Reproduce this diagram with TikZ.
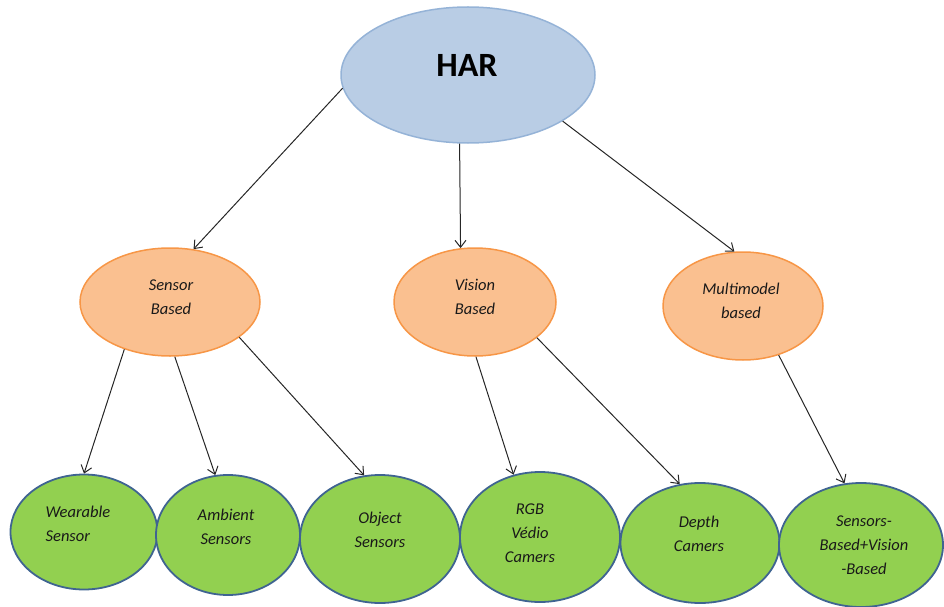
\documentclass[tikz,border=0pt]{standalone}
\usepackage{fontspec}
\setmainfont{Carlito}
\usetikzlibrary{shapes.geometric,arrows.meta}
\definecolor{harfill}{HTML}{B9CDE5}
\definecolor{harline}{HTML}{95B3D7}
\definecolor{orfill}{HTML}{FAC090}
\definecolor{orline}{HTML}{F79646}
\definecolor{grfill}{HTML}{92D050}
\definecolor{grline}{HTML}{3F6491}
\tikzset{
  topell/.style={ellipse, fill=harfill, draw=harline, line width=1.5pt, inner sep=0pt},
  midell/.style={ellipse, fill=orfill, draw=orline, line width=1.5pt, inner sep=0pt},
  botell/.style={ellipse, fill=grfill, draw=grline, line width=1.8pt, inner sep=0pt},
  lbl/.style={font=\fontsize{16.5}{24}\selectfont\itshape, align=center, inner sep=0pt, text=black!90},
  conn/.style={draw=black!85, line width=1pt, -{Straight Barb[length=7pt,width=11pt]}}
}
\begin{document}
\begin{tikzpicture}[x=1pt,y=-1pt]
\useasboundingbox (0,0) rectangle (944,607);
% ellipses
\node[topell, minimum width=254, minimum height=136] (har) at (468,75) {};
\node[midell, minimum width=180, minimum height=108] (sb) at (170,302) {};
\node[midell, minimum width=162, minimum height=108] (vb) at (475,302) {};
\node[midell, minimum width=160, minimum height=108] (mb) at (743,306) {};
\node[botell, minimum width=147, minimum height=115] (ws) at (84,532) {};
\node[botell, minimum width=144, minimum height=120] (as) at (228,535) {};
\node[botell, minimum width=160, minimum height=128] (os) at (380,539) {};
\node[botell, minimum width=160, minimum height=130] (rgb) at (540,537) {};
\node[botell, minimum width=159, minimum height=120] (dc) at (700,543) {};
\node[botell, minimum width=164, minimum height=124] (sv) at (861,545) {};
% texts
\node[font=\fontsize{34}{36}\selectfont\bfseries, inner sep=0pt] (hart) at (467,65) {HAR};
\node[lbl] (sbt) at (171,297) {Sensor\\Based};
\node[lbl] (vbt) at (475,297) {Vision\\Based};
\node[lbl] (mbt) at (741,301) {Multimodel\\based};
\node[lbl, align=left] (wst) at (78,524) {Wearable\\Sensor};
\node[lbl] (ast) at (226,527) {Ambient\\Sensors};
\node[lbl] (ost) at (380,530) {Object\\Sensors};
\node[lbl] (rgbt) at (530,533) {RGB\\Védio\\Camers};
\node[lbl] (dct) at (699,534) {Depth\\Camers};
\node[lbl] (svt) at (864,545) {Sensors-\\Based+Vision\\-Based};
% connectors
\draw[conn] (har.186) -- (sb.66);
\draw[conn] (har.263) -- (vb.105);
\draw[conn] (har.334) -- (mb.99);
\draw[conn] (sb.226) -- (ws.90);
\draw[conn] (sb.275) -- (as.102);
\draw[conn] (sb.333) -- (os.104);
\draw[conn] (vb.271) -- (rgb.113);
\draw[conn] (vb.330) -- (dc.109);
\draw[conn] (mb.306) -- (sv.105);
\end{tikzpicture}
\end{document}
